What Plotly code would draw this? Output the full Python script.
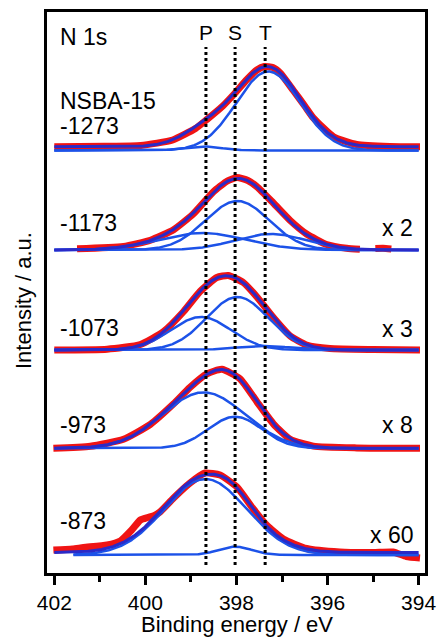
import numpy as np
import plotly.graph_objects as go

# sample labels, top to bottom, and the scaling factor printed on the right
samples = ["-1273", "-1173", "-1073", "-973", "-873"]
factors = ["", "x 2", "x 3", "x 8", "x 60"]

# reference binding energies of the three nitrogen species
peak_names = ["P", "S", "T"]
peak_energies = [398.67, 398.03, 397.37]

# measured N 1s spectra: binding energy (eV) and intensity (a.u.)
be_1273 = [402.0, 400.9, 400.1, 399.4, 398.9, 398.65, 398.3, 398.07, 397.77, 397.55,
           397.39, 397.2, 397.04, 396.75, 396.5, 396.31, 395.87, 395.36, 394.63, 393.97]
int_1273 = [3.8, 4.2, 5.0, 10.5, 22, 31, 44.5, 55.5, 71, 80.5,
            84, 83, 77.5, 60, 44.5, 32.5, 13.8, 6, 4, 3.8]

be_1173 = [401.5, 400.48, 399.89, 399.38, 398.95, 398.51, 398.2, 397.99, 397.75, 397.55,
           397.19, 396.82, 396.46, 396.02, 395.58, 395.29, 395.1, 394.95, 394.78, 394.6]
int_1173 = [1.2, 3.5, 9.8, 20.3, 36, 58, 69, 72.5, 69.5, 63.3,
            47, 29.5, 16, 5.5, 1.7, 0.7, None, 1.5, 1.7, 1.0]

be_1073 = [402.0, 400.84, 400.11, 399.6, 399.16, 398.8, 398.43, 398.18, 397.85, 397.55,
           397.19, 396.82, 396.46, 395.95, 395.0, 393.97]
int_1073 = [0, 0.8, 5.5, 18.5, 38.5, 58.5, 72.5, 74.5, 67.5, 53,
            32.5, 14, 5, 1.5, 0.5, 0]

be_973 = [402.02, 401.21, 400.48, 399.89, 399.38, 399.02, 398.65, 398.32, 397.92, 397.55,
          397.19, 396.82, 396.31, 395.36, 393.97]
int_973 = [0, 2, 9, 24, 44.5, 61, 74.5, 79, 69.5, 46.5,
           24.5, 9, 2.2, 0.4, 0]

be_873 = [402.02, 401.6, 401.36, 400.84, 400.55, 400.3, 400.11, 399.95, 399.8, 399.68,
          399.38, 399.02, 398.69, 398.36, 397.99, 397.63, 397.34, 396.97, 396.46, 395.73,
          395.0, 394.56, 394.27, 393.97]
int_873 = [5, 6, 7.5, 10, 14, 25, 35, 37.5, 39.5, 43,
           57, 72, 82, 80, 68, 46, 30, 16, 6.5, 3,
           2.5, 3, -1.5, -3]

# fitted gaussian components: centre (eV), fwhm (eV), height (a.u.)
fit_centre_1273 = [397.30, 398.75]
fit_fwhm_1273 = [1.65, 0.99]
fit_height_1273 = [79, 4]

fit_centre_1173 = [397.98, 398.75, 397.25]
fit_fwhm_1173 = [1.65, 2.24, 1.84]
fit_height_1173 = [49, 17, 16]

fit_centre_1073 = [398.78, 397.98, 397.40]
fit_fwhm_1073 = [1.55, 1.60, 1.41]
fit_height_1073 = [33, 53, 4]

fit_centre_973 = [398.72, 398.03]
fit_fwhm_973 = [2.12, 1.39]
fit_height_973 = [56, 31.6]

fit_centre_873 = [398.68, 398.03]
fit_fwhm_873 = [2.12, 0.87]
fit_height_873 = [76, 8.3]

# extra intensity in the envelope not shown as its own component
hidden_centre = [398.6, None, None, None, None]
hidden_fwhm = [1.41, None, None, None, None]
hidden_height = [12, 0, 0, 0, 0]
background = [3.8, 0, 0, 0, 2.5]

spectra = [
    (be_1273, int_1273, fit_centre_1273, fit_fwhm_1273, fit_height_1273),
    (be_1173, int_1173, fit_centre_1173, fit_fwhm_1173, fit_height_1173),
    (be_1073, int_1073, fit_centre_1073, fit_fwhm_1073, fit_height_1073),
    (be_973, int_973, fit_centre_973, fit_fwhm_973, fit_height_973),
    (be_873, int_873, fit_centre_873, fit_fwhm_873, fit_height_873),
]

# vertical stacking of the spectra and where the component lines start
offsets = [422.5, 323, 223, 124.7, 18]
comp_start = [402.0, 402.0, 402.0, 402.0, 401.58]

RED = "#f01414"
ENV = "#2a2ac8"
COMP = "#1c52e8"
FONT = "Liberation Sans, Arial, sans-serif"


def gauss(x, c, fwhm, h):
    s = fwhm / 2.3548
    return h * np.exp(-(x - c) ** 2 / (2 * s * s))


fig = go.Figure()

for k, (be, inten, cen, fw, hh) in enumerate(spectra):
    off = offsets[k]
    y_data = [None if v is None else v + off for v in inten]
    fig.add_trace(go.Scatter(x=be, y=y_data, mode="lines",
                             line=dict(color=RED, width=7, shape="spline", smoothing=0.5),
                             connectgaps=False, hoverinfo="skip"))

    xs = np.linspace(402.0, 394.0, 500)
    env = np.full_like(xs, background[k])
    xc = np.linspace(comp_start[k], 394.0, 500)
    for c, f, h in zip(cen, fw, hh):
        env += gauss(xs, c, f, h)
        fig.add_trace(go.Scatter(x=xc, y=gauss(xc, c, f, h) + off, mode="lines",
                                 line=dict(color=COMP, width=2.5), hoverinfo="skip"))
    if hidden_height[k]:
        env += gauss(xs, hidden_centre[k], hidden_fwhm[k], hidden_height[k])
    fig.add_trace(go.Scatter(x=xs, y=env + off, mode="lines",
                             line=dict(color=ENV, width=3), hoverinfo="skip"))

# dotted reference lines with their labels
for name, e in zip(peak_names, peak_energies):
    fig.add_shape(type="line", x0=e, x1=e, y0=8, y1=526, xref="x", yref="y",
                  line=dict(color="black", width=3, dash="dot"))
    fig.add_annotation(x=e, y=541, text=name, showarrow=False, yanchor="middle",
                       font=dict(size=21, color="black", family=FONT))

label_y = [447.5, 350.5, 245.5, 148, 52]
factor_y = [0, 344.7, 244, 148, 38]
ann = dict(showarrow=False, font=dict(size=23, color="black", family=FONT), yanchor="middle")
fig.add_annotation(x=401.91, y=536.5, text="N 1s", xanchor="left", **ann)
fig.add_annotation(x=401.91, y=472.5, text="NSBA-15", xanchor="left", **ann)
for k, s in enumerate(samples):
    fig.add_annotation(x=401.91, y=label_y[k], text=s, xanchor="left", **ann)
    if factors[k]:
        fig.add_annotation(x=394.08, y=factor_y[k], text=factors[k], xanchor="right", **ann)

# axis titles
fig.add_annotation(x=397.98, y=-0.0925, xref="x", yref="paper", text="Binding energy / eV",
                   showarrow=False, xanchor="center", yanchor="middle",
                   font=dict(size=22, color="black", family=FONT))
fig.add_annotation(x=-0.0635, y=273, xref="paper", yref="y", text="Intensity / a.u.",
                   showarrow=False, textangle=-90, xanchor="center", yanchor="middle",
                   font=dict(size=22, color="black", family=FONT))

fig.update_layout(
    width=437, height=644,
    margin=dict(l=47, r=12, t=12, b=71),
    paper_bgcolor="white", plot_bgcolor="white",
    showlegend=False,
    font=dict(family=FONT, size=21, color="black"),
    xaxis=dict(range=[402.16, 393.86], tickvals=[402, 400, 398, 396, 394],
               ticks="outside", ticklen=9, tickwidth=2.5, tickcolor="black",
               minor=dict(tickvals=[401, 399, 397, 395], ticks="outside", ticklen=6,
                          tickwidth=2.5, tickcolor="black"),
               showgrid=False, zeroline=False, showline=True, linecolor="black",
               linewidth=2.5, mirror=True, tickfont=dict(size=21), automargin=False),
    yaxis=dict(range=[0, 561], showticklabels=False, ticks="", showgrid=False,
               zeroline=False, showline=True, linecolor="black", linewidth=2.5,
               mirror=True, automargin=False),
)

fig.write_html("out.html", config={"displayModeBar": False},
               post_script="document.body.style.margin='0';")
